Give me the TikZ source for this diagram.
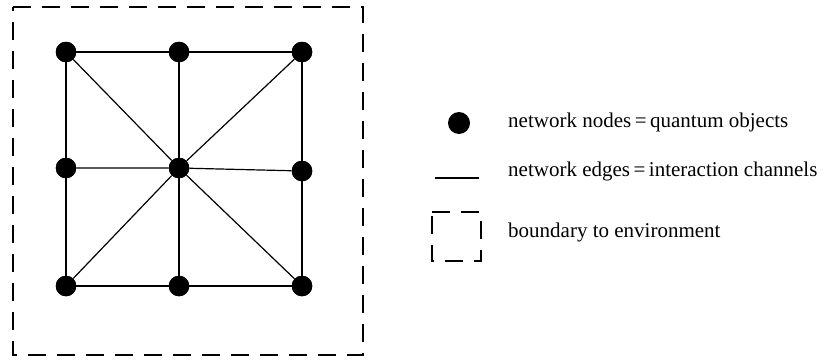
\documentclass[tikz,border=0pt]{standalone}
\usepackage{fontspec}
\setmainfont{Liberation Serif}
\begin{document}
\begin{tikzpicture}[x=1pt,y=-1pt,
  qnode/.style={circle,fill=black,draw=none,minimum size=20.5pt,inner sep=0pt},
  edge/.style={line width=1.2pt,black},
  boundary/.style={line width=1.2pt,black,dash pattern=on 18pt off 11pt},
  legendtext/.style={anchor=base west,inner sep=0pt,font=\fontsize{21}{25}\selectfont}]
\useasboundingbox (0,0) rectangle (824,359);

% environment boundary
\draw[boundary] (13,7) -- (363,7) -- (363,355) -- (13,355) -- cycle;

% network nodes
\node[qnode] (n11) at (66,52) {};
\node[qnode] (n12) at (179,52) {};
\node[qnode] (n13) at (302,52) {};
\node[qnode] (n21) at (66,168) {};
\node[qnode] (n22) at (179,168) {};
\node[qnode] (n23) at (302,171) {};
\node[qnode] (n31) at (66,286) {};
\node[qnode] (n32) at (179,286) {};
\node[qnode] (n33) at (302,286) {};

% network edges
\begin{scope}[on background layer/.try]
\draw[edge] (n11) -- (n12) -- (n13);
\draw[edge] (n21) -- (n22) -- (n23);
\draw[edge] (n31) -- (n32) -- (n33);
\draw[edge] (n11) -- (n21) -- (n31);
\draw[edge] (n12) -- (n22) -- (n32);
\draw[edge] (n13) -- (n23) -- (n33);
\draw[edge] (n11) -- (n22) -- (n33);
\draw[edge] (n13) -- (n22) -- (n31);
\end{scope}
% redraw nodes on top of the edges
\foreach \n in {n11,n12,n13,n21,n22,n23,n31,n32,n33}
  \fill (\n) circle (10.25pt);

% legend
\node[qnode,minimum size=22pt] (ldot) at (459,123) {};
\coordinate (la) at (435,178);
\coordinate (lb) at (479,178);
\draw[edge] (la) -- (lb);
\draw[boundary] (432,212) -- (481,212) -- (481,261) -- (432,261) -- cycle;

\node[legendtext] (t1) at (508,127) {network nodes\,=\,quantum objects};
\node[legendtext] (t2) at (508,176) {network edges\,=\,interaction channels};
\node[legendtext] (t3) at (508,237) {boundary to environment};
\end{tikzpicture}
\end{document}
